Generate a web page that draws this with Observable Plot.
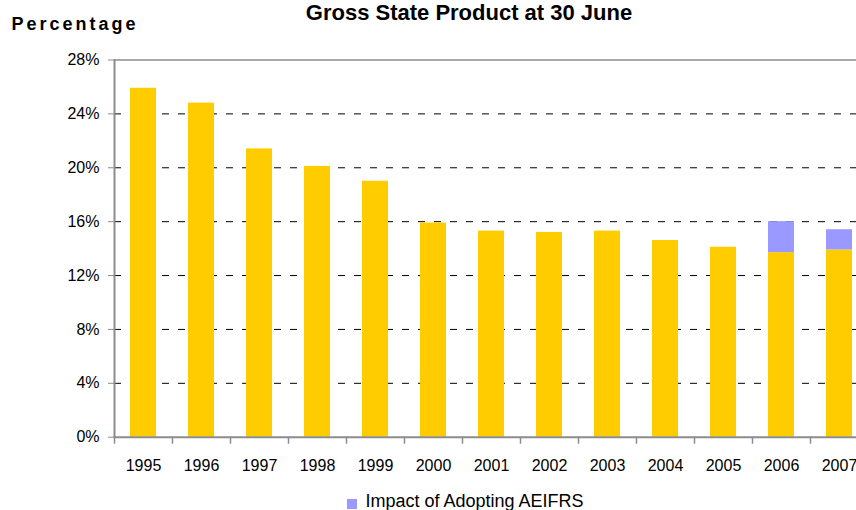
<!DOCTYPE html>
<html>
<head>
<meta charset="utf-8">
<script src="https://cdn.jsdelivr.net/npm/d3@7"></script>
<script src="https://cdn.jsdelivr.net/npm/@observablehq/plot@0.6"></script>
<style>
  html, body { margin: 0; padding: 0; background: #fff; }
  #chart { position: relative; width: 856px; height: 510px; overflow: hidden; font-family: "Liberation Sans", Arial, sans-serif; color: #000; }
  #chart svg { position: absolute; left: 0; top: 0; }
  .title { position: absolute; left: 469px; top: 1.5px; transform: translateX(-50%); font-size: 22px; font-weight: bold; line-height: 1; white-space: nowrap; }
  .ylabel { position: absolute; left: 11.5px; top: 14.8px; font-size: 18px; font-weight: bold; letter-spacing: 3px; line-height: 1; white-space: nowrap; }
  .legend { position: absolute; left: 346.5px; top: 491.5px; font-size: 18px; line-height: 1; white-space: nowrap; display: flex; align-items: center; }
  .legend .swatch { display: inline-block; width: 10px; height: 10px; background: #9999FF; margin-right: 9px; margin-top: 6px; }
</style>
</head>
<body>
<div id="chart">
  <div class="title">Gross State Product at 30 June</div>
  <div class="ylabel">Percentage</div>
  <div class="legend"><span class="swatch"></span><span>Impact of Adopting AEIFRS</span></div>
</div>
<script>
// Ratio to Gross State Product at 30 June, by year (per cent)
const years = [1995, 1996, 1997, 1998, 1999, 2000, 2001, 2002, 2003, 2004, 2005, 2006, 2007];
const ratio = [25.9, 24.8, 21.4, 20.1, 19.0, 15.9, 15.3, 15.2, 15.3, 14.6, 14.1, 13.7, 13.9];
// Additional amount from adopting AEIFRS (2006 and 2007 only)
const impact = [0, 0, 0, 0, 0, 0, 0, 0, 0, 0, 0, 2.3, 1.5];
const yTicks = [0, 4, 8, 12, 16, 20, 24, 28];
const gridTicks = [4, 8, 12, 16, 20, 24];

const seriesNames = ["Ratio", "Impact of Adopting AEIFRS"];
const seriesColors = ["#FFCC00", "#9999FF"];

const rows = [];
years.forEach((year, i) => {
  rows.push({year, series: seriesNames[0], value: ratio[i]});
  if (impact[i] > 0) rows.push({year, series: seriesNames[1], value: impact[i]});
});

const axisGray = "#8c8c8c";

const chart = Plot.plot({
  width: 856,
  height: 480,
  marginLeft: 114,
  marginRight: -12,
  marginTop: 59.5,
  marginBottom: 43.3,
  style: {fontFamily: "Liberation Sans, Arial, sans-serif", background: "transparent"},
  x: {type: "band", domain: years, paddingInner: 0.55, paddingOuter: 0.275},
  y: {domain: [0, 28]},
  color: {domain: seriesNames, range: seriesColors},
  marks: [
    // dashed gridlines behind the bars
    Plot.ruleY(gridTicks, {stroke: "#000", strokeWidth: 1, strokeDasharray: "7,9"}),
    // top border of the plot area
    Plot.ruleY([28], {stroke: axisGray, strokeWidth: 1.5}),
    Plot.barY(rows, Plot.stackY({x: "year", y: "value", fill: "series"})),
    // x axis baseline and category separators
    Plot.ruleY([0], {stroke: axisGray, strokeWidth: 2}),
    Plot.ruleX(years, {x: d => d, y1: 0, y2: 0, dx: -29, insetBottom: -7, stroke: axisGray, strokeWidth: 1.5}),
    Plot.frame({anchor: "left", stroke: axisGray, strokeWidth: 2}),
    Plot.axisY(yTicks, {
      tickFormat: d => d + "%", tickSize: 6, tickPadding: 9,
      stroke: axisGray, fill: "#000", fontSize: 16, label: null
    }),
    Plot.axisX({tickSize: 0, tickPadding: 22, fill: "#000", fontSize: 16, label: null, tickFormat: d => String(d)})
  ]
});

document.getElementById("chart").prepend(chart);
</script>
</body>
</html>
